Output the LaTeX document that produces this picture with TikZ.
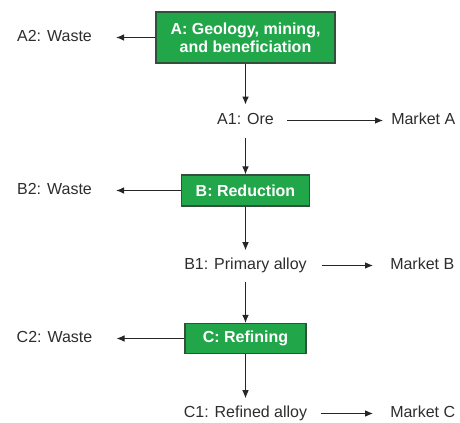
\documentclass[tikz,border=0pt]{standalone}
\usepackage{fontspec}
\setmainfont{Liberation Sans}
\usetikzlibrary{arrows.meta}
\definecolor{boxgreen}{RGB}{33,166,74}
\definecolor{boxedge}{RGB}{50,80,60}
\definecolor{txt}{RGB}{45,45,45}
\tikzset{
  proc/.style={draw=boxedge, line width=0.9pt, fill=boxgreen, text=white, font=\bfseries\fontsize{12}{13.5}\selectfont, align=center, inner sep=0pt},
  lbl/.style={text=txt, font=\fontsize{12}{13.5}\selectfont, inner sep=0pt, text height=8.5pt, text depth=2pt},
  flow/.style={draw=black!85, line width=0.75pt, -{Latex[length=6pt,width=5pt]}}
}
\begin{document}
\begin{tikzpicture}[x=0.75pt,y=-0.75pt]
\useasboundingbox (0,0) rectangle (460,423);
% process boxes
\node[proc, minimum width=134.25pt, minimum height=38.25pt] (A) at (245.5,37.5) {A: Geology, mining,\\and beneficiation};
\node[proc, minimum width=96pt, minimum height=23.25pt] (B) at (245.5,190.5) {B: Reduction};
\node[proc, minimum width=90.75pt, minimum height=22.5pt] (C) at (245.5,338.5) {C: Refining};
% labels
\node[lbl] (A2) at (54.5,37.5) {A2: Waste};
\node[lbl] (B2) at (54.5,190.5) {B2: Waste};
\node[lbl] (C2) at (54.5,338.5) {C2: Waste};
\node[lbl] (A1) at (245.5,120.5) {A1: Ore};
\node[lbl] (B1) at (245.5,265.5) {B1: Primary alloy};
\node[lbl] (C1) at (245.5,413.5) {C1: Refined alloy};
\node[lbl, anchor=west] (MA) at (391,120.5) {Market A};
\node[lbl, anchor=west] (MB) at (390,265.5) {Market B};
\node[lbl, anchor=west] (MC) at (390,413.5) {Market C};
% waste arrows
\draw[flow, shorten >=18pt] (A.west) -- (A2.east);
\draw[flow, shorten >=18pt] (B.west) -- (B2.east);
\draw[flow, shorten >=18pt] (C.west) -- (C2.east);
% main vertical flow
\draw[flow, shorten >=6.5pt] (A.south) -- (A1.north);
\draw[flow, shorten <=7.5pt] (A1.south) -- (B.north);
\draw[flow, shorten >=6pt] (B.south) -- (B1.north);
\draw[flow, shorten <=7pt] (B1.south) -- (C.north);
\draw[flow, shorten >=6pt] (C.south) -- (C1.north);
% market arrows
\draw[flow, shorten <=9.75pt, shorten >=6pt] (A1.east) -- (MA.west);
\draw[flow, shorten <=11pt, shorten >=12.75pt] (B1.east) -- (MB.west);
\draw[flow, shorten <=10pt, shorten >=12.75pt] (C1.east) -- (MC.west);
\end{tikzpicture}
\end{document}
